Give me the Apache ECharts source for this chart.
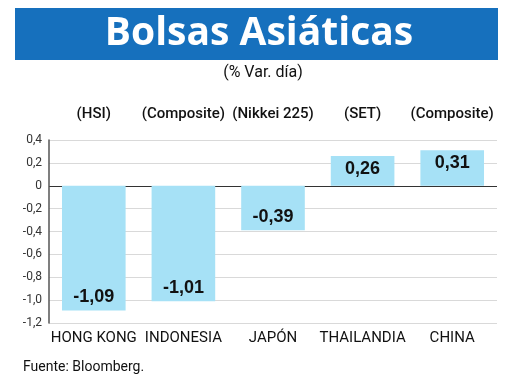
<!DOCTYPE html>
<html>
<head>
<meta charset="utf-8">
<script src="https://cdn.jsdelivr.net/npm/echarts@6/dist/echarts.min.js"></script>
<style>html,body{margin:0;padding:0;background:#fff}#c{width:520px;height:390px}</style>
</head>
<body>
<div id="c"></div>
<script>
var countries = ['HONG KONG', 'INDONESIA', 'JAPÓN', 'THAILANDIA', 'CHINA'];
var indices = ['(HSI)', '(Composite)', '(Nikkei 225)', '(SET)', '(Composite)'];
var values = [-1.09, -1.01, -0.39, 0.26, 0.31];
var yTicks = { min: -1.2, max: 0.4, interval: 0.2 };

function fmt(v) { return String(v).replace('.', ','); }
function fmtAxis(v) { var r = Math.round(v * 10) / 10; if (r === 0) return '0'; return r.toFixed(1).replace('.', ','); }

var chart = echarts.init(document.getElementById('c'), null, { renderer: 'canvas' });
var nSplit = Math.round((yTicks.max - yTicks.min) / yTicks.interval) + 1;
var splitColors = [];
for (var i = 0; i < nSplit; i++) {
  var v = yTicks.min + i * yTicks.interval;
  splitColors.push(Math.abs(v) < 1e-6 ? '#333333' : '#d9d9d9');
}

chart.setOption({
  animation: false,
  graphic: [
    { type: 'rect', shape: { x: 15, y: 8, width: 483, height: 52 }, style: { fill: '#1670bd' }, z: 0 },
    { type: 'text', x: 259, y: 34, style: { text: 'Bolsas Asiáticas', fill: '#ffffff', font: 'bold 39px "Open Sans", Lato, sans-serif', textAlign: 'center', textVerticalAlign: 'middle' }, z: 1 },
    { type: 'text', x: 263, y: 73, style: { text: '(% Var. día)', fill: '#111', font: '16px Roboto, sans-serif', textAlign: 'center', textVerticalAlign: 'middle' } },
    { type: 'text', x: 23, y: 367, style: { text: 'Fuente: Bloomberg.', fill: '#111', font: '14px Roboto, sans-serif', textAlign: 'left', textVerticalAlign: 'middle' } }
  ],
  grid: { left: 49, right: 23, top: 140, bottom: 67, containLabel: false },
  xAxis: [
    {
      type: 'category', data: countries, position: 'bottom',
      axisLine: { show: false }, axisTick: { show: false },
      axisLabel: { color: '#111', fontSize: 15, fontFamily: 'Roboto, sans-serif', margin: 8, interval: 0 }
    },
    {
      type: 'category', data: indices, position: 'top',
      axisLine: { show: false }, axisTick: { show: false },
      axisLabel: { color: '#111', fontSize: 15, fontWeight: 500, fontFamily: 'Roboto, sans-serif', margin: 18, interval: 0 }
    }
  ],
  yAxis: {
    type: 'value', min: yTicks.min, max: yTicks.max, interval: yTicks.interval,
    axisLine: { show: true, lineStyle: { color: '#555', width: 1.5 } },
    axisTick: { show: false },
    axisLabel: { color: '#333', fontSize: 12, fontFamily: 'Roboto, sans-serif', margin: 7, formatter: fmtAxis },
    splitLine: { show: true, lineStyle: { color: splitColors, width: 1.2 } }
  },
  series: [{
    type: 'bar',
    data: values.map(function (v) {
      return { value: v, label: { position: v < 0 ? 'insideBottom' : 'insideTop', distance: 4 } };
    }),
    barWidth: '71%',
    itemStyle: { color: '#a6e1f6' },
    label: {
      show: true, color: '#111', fontSize: 18, fontWeight: 'bold',
      fontFamily: '"Liberation Sans", sans-serif',
      formatter: function (p) { return fmt(p.value); }
    }
  }]
});
</script>
</body>
</html>
